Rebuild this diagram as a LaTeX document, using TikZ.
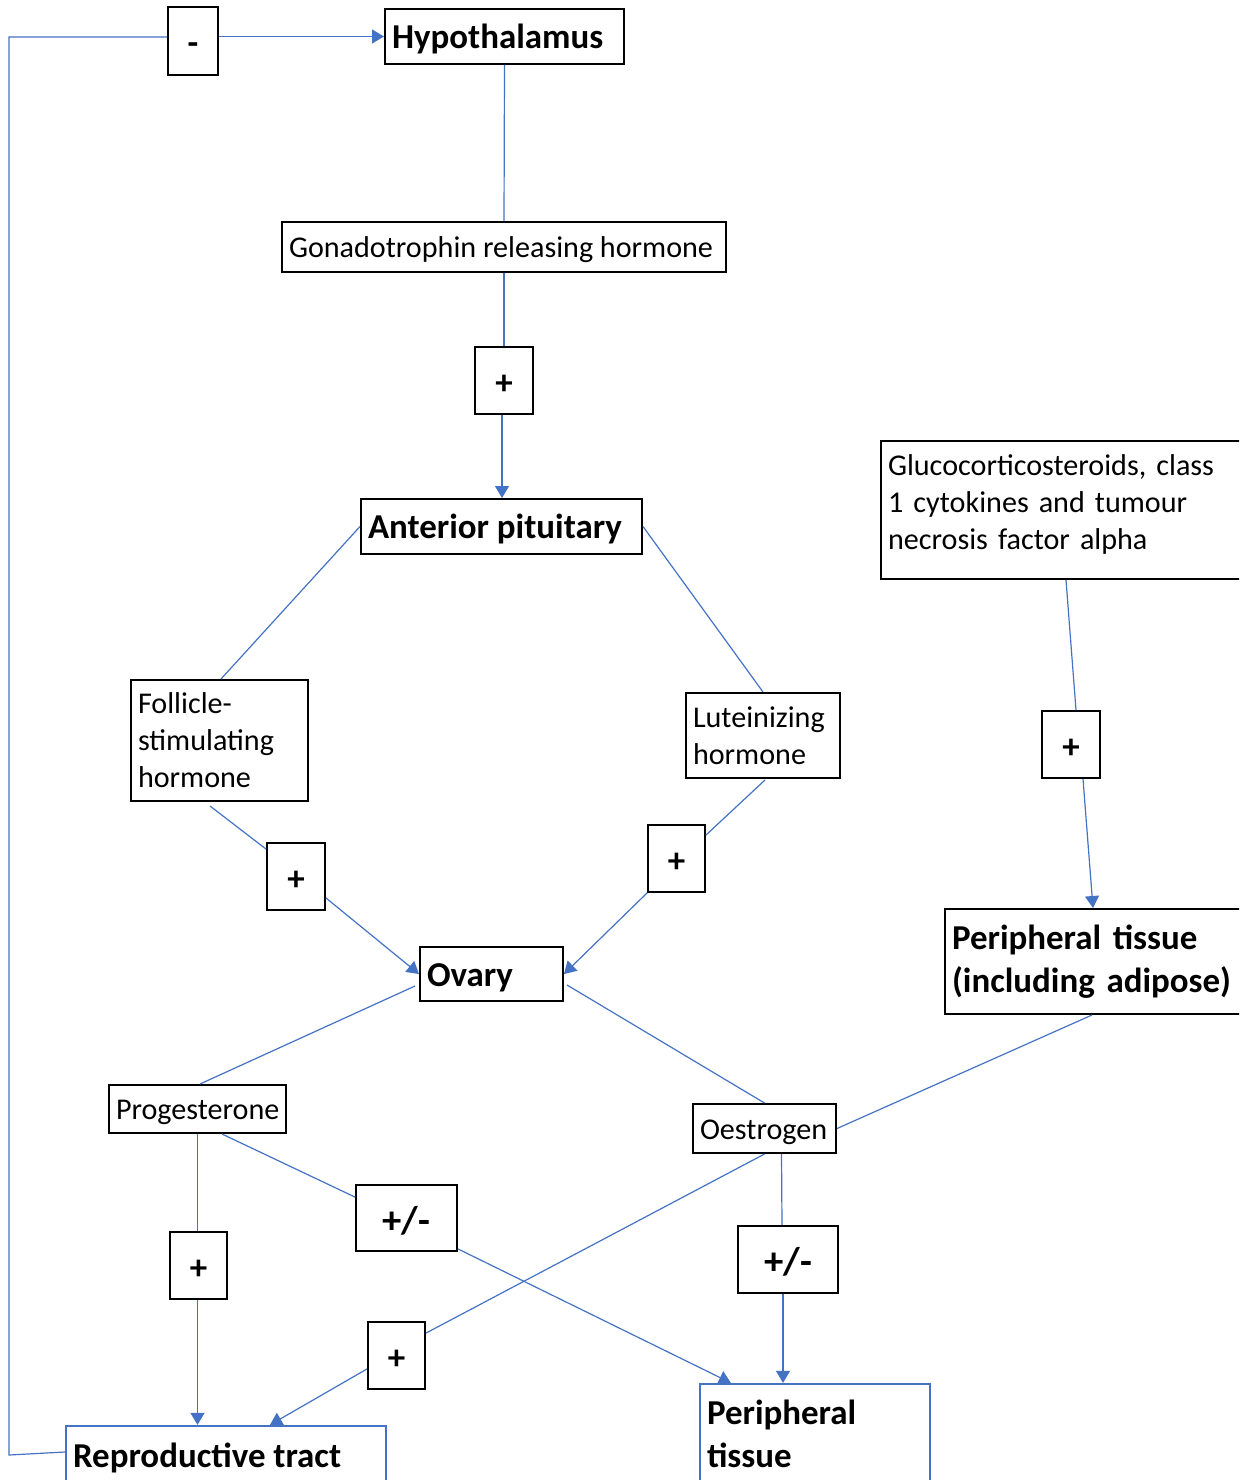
\documentclass[tikz,border=0pt]{standalone}
\usepackage{fontspec}
\setmainfont{Carlito}
\usetikzlibrary{arrows.meta,calc}
\definecolor{lineblue}{HTML}{4472C4}
\newcommand{\regf}{\fontsize{22.6pt}{27.75pt}\selectfont}
\newcommand{\boldf}{\fontsize{26.2pt}{32.25pt}\selectfont\bfseries}
\newcommand{\pmf}{\fontsize{29pt}{34pt}\selectfont\bfseries}
\newcommand{\lft}[2]{\makebox[#1][l]{#2}}
\begin{document}
\begin{tikzpicture}[x=0.75pt,y=-0.75pt,
  conn/.style={draw=lineblue,line width=0.9pt},
  arr/.style={conn,-{Triangle[length=9pt,width=10.5pt]}},
  tbox/.style={draw=black,line width=1.5pt,inner xsep=5.25pt,inner ysep=0pt,fill=white},
  multi/.style={align=left},
  sb/.style={font=\boldf,text height=22.6pt,text depth=4pt},
  sr/.style={font=\regf,text height=20.4pt,text depth=4pt},
  bbox/.style={tbox,draw=lineblue,line width=1.7pt},
  sgn/.style={draw=black,line width=1.3pt,inner sep=0pt,font=\boldf,minimum width=43.5pt,minimum height=50.25pt,fill=white,text height=20.4pt,text depth=0pt},
  pmsgn/.style={sgn,font=\pmf,text height=22.6pt},
  reg/.style={font=\regf},
  bld/.style={font=\boldf}]
\useasboundingbox (0,0) rectangle (1239,1480);
\clip (0,0) rectangle (1239,1480);

% nodes
\node[sgn,minimum width=37.5pt,minimum height=51pt] (minus) at (193,41) {-};
\node[tbox,sb,minimum height=41.25pt] (hyp) at (504.5,36.5) {\lft{168.75pt}{Hypothalamus}};
\node[tbox,sr,minimum height=37.5pt] (gnrh) at (504,247) {\lft{322.5pt}{Gonadotrophin releasing hormone}};
\node[sgn] (p1) at (504,380.5) {+};
\node[tbox,sb,minimum height=41.25pt] (ap) at (501.5,526.5) {\lft{200.25pt}{Anterior pituitary}};
\node[tbox,reg,multi,minimum height=103.5pt,text width=260.25pt] (gluco) at (1061.5,510) {Glucocorticosteroids, class\\1 cytokines and tumour\\necrosis factor alpha\rule[-12pt]{0pt}{12pt}};
\node[tbox,reg,multi,minimum height=90.75pt,text width=122.25pt] (fsh) at (219.5,740.5) {Follicle-\\stimulating\\hormone};
\node[tbox,reg,multi,minimum height=63.75pt,text width=105pt] (lh) at (763,735.5) {Luteinizing\\hormone};
\node[sgn] (p2) at (296,876.5) {+};
\node[sgn,minimum width=42.75pt] (p3) at (676.5,858.5) {+};
\node[sgn] (p4) at (1071,744.5) {+};
\node[tbox,bld,multi,minimum height=78.75pt,text width=212.25pt] (pt) at (1093.5,961.5) {Peripheral tissue\\(including adipose)};
\node[tbox,sb,minimum height=40.5pt] (ovary) at (491.5,974) {\lft{96.75pt}{Ovary}};
\node[tbox,sr,minimum height=36pt] (prog) at (197.5,1109) {\lft{122.25pt}{Progesterone}};
\node[tbox,sr,minimum height=36.75pt] (oest) at (764.5,1128.5) {\lft{96.75pt}{Oestrogen}};
\node[pmsgn,minimum width=75.75pt,minimum height=49.5pt] (pm1) at (406.5,1218) {+/-};
\node[pmsgn,minimum width=75pt] (pm2) at (788,1259.5) {+/-};
\node[sgn,minimum width=42.75pt] (p5) at (198.5,1265.5) {+};
\node[sgn,minimum width=42.75pt] (p6) at (396.5,1355.5) {+};
\node[bbox,sb,minimum height=43.5pt] (repro) at (226,1455) {\lft{229.5pt}{Reproductive tract}};
\node[bbox,bld,multi,minimum height=75pt,text width=162pt] (ptb) at (815,1434) {Peripheral\\tissue};

% connectors
\coordinate (fbA) at (9,1455);
\coordinate (fbB) at (9,37);
\draw[conn] ($(repro.west)+(0,-3)$) -- (fbA) -- (fbB) -- (fbB -| minus.west);
\draw[arr] (minus.east |- hyp.west) -- (hyp.west);
\draw[conn] (hyp.south) -- (gnrh.north);
\draw[conn] (gnrh.south) -- (p1.north);
\draw[arr] ($(p1.south)+(-2,0)$) -- ($(p1.south |- ap.north)+(-2,0)$);
\draw[conn] (ap.west) -- ($(fsh.north)+(1.5,0)$);
\draw[conn] (ap.east) -- (lh.north);
\draw[conn] ($(fsh.south)+(-9.5,4)$) -- ($(p2.north west)+(0,7)$);
\draw[arr] ($(p2.south east)+(0,-13)$) -- (ovary.west);
\draw[conn] ($(lh.south)+(2,1)$) -- ($(p3.north east)+(0,11)$);
\draw[arr] (p3.south west) -- (ovary.east);
\draw[conn] ($(gluco.south)+(4.5,0)$) -- ($(p4.north)+(5,0)$);
\draw[arr] ($(p4.south)+(12,0)$) -- ($(pt.north)+(-0.5,0)$);
\draw[conn] ($(ovary.west)+(-4,12)$) -- ($(prog.north)+(2.5,0)$);
\draw[conn] ($(ovary.east)+(3,11)$) -- (oest.north);
\draw[conn] ($(pt.south)+(-1.5,0)$) -- (oest.east);
\draw[conn] (prog.south) -- (p5.north -| prog.south);
\draw[arr] (p5.south -| prog.south) -- (prog.south |- repro.north);
\draw[conn] ($(prog.south)+(24.5,0)$) -- ($(pm1.north west)+(0,13)$);
\draw[arr] ($(pm1.south east)+(0,-3)$) -- ($(ptb.north west)+(32,0)$);
\draw[conn] (oest.south) -- ($(p6.north east)+(0,12)$);
\draw[arr] ($(p6.south west)+(0,-21)$) -- ($(repro.north)+(44,0)$);
\draw[conn] ($(oest.south)+(17,0)$) -- ($(pm2.north)+(-6,0)$);
\draw[arr] ($(pm2.south)+(-5,0)$) -- ($(ptb.north)+(-32,0)$);
\end{tikzpicture}
\end{document}
